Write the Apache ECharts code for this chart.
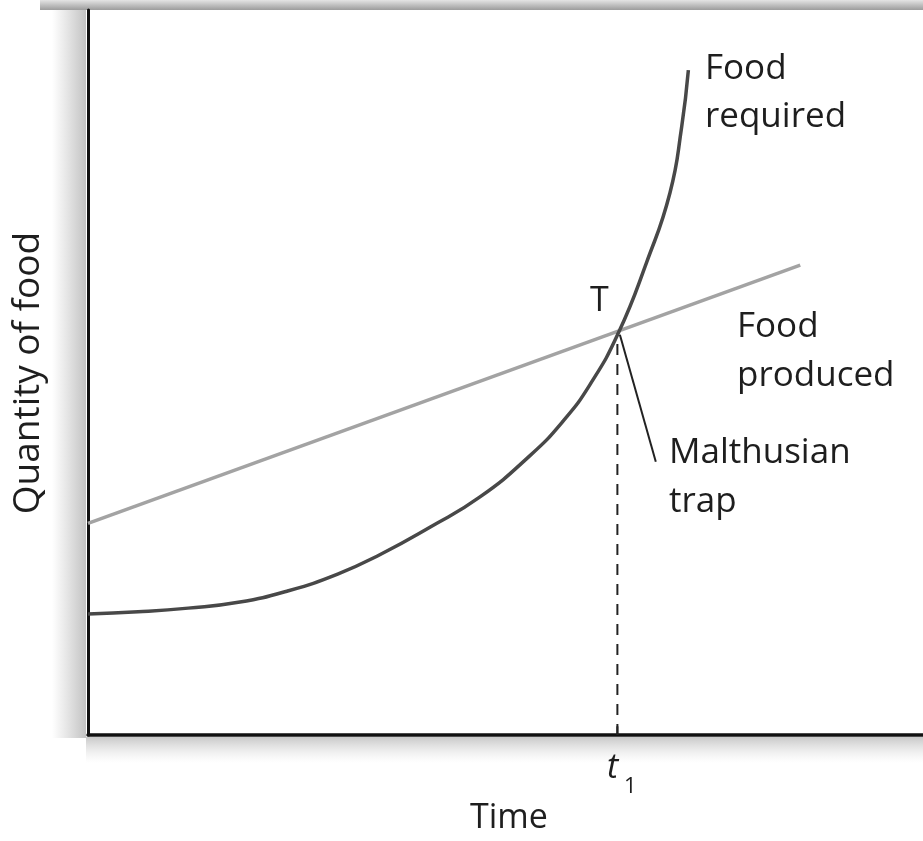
<!DOCTYPE html>
<html>
<head>
<meta charset="utf-8">
<title>Malthusian trap</title>
<script src="https://cdn.jsdelivr.net/npm/echarts@6/dist/echarts.min.js"></script>
<style>
  html, body { margin: 0; padding: 0; background: #fff; }
  #chart { width: 923px; height: 841px; }
</style>
</head>
<body>
<div id="chart"></div>
<script>
// values, in axis units (0-100 both ways)
const producedX = [0, 85.3];
const producedY = [29.2, 64.8];
const requiredX = [0, 6.0, 12.0, 18.0, 24.0, 29.9, 35.0, 41.0, 46.9, 52.9, 56.9, 60.1, 63.5, 66.9, 69.7, 71.1, 71.9];
const requiredY = [16.7, 17.0, 17.5, 18.3, 19.9, 22.2, 24.9, 28.7, 32.8, 38.5, 43.3, 48.3, 55.4, 65.2, 74.8, 83.9, 91.7];
const trapX = 63.4;
const trapY = 55.6;
const leaderX = [63.7, 68.0];
const leaderY = [55.2, 37.7];

function pairs(xs, ys) {
  return xs.map((x, i) => [x, ys[i]]);
}

const font = '"Open Sans", "DejaVu Sans", sans-serif';
const txtColor = '#1e1e1e';

let myChart = echarts.init(document.getElementById('chart'));

let option = {
  animation: false,
  backgroundColor: '#fff',
  grid: { left: 88, top: 10, right: 0, bottom: 106 },
  xAxis: {
    type: 'value', min: 0, max: 100,
    axisLine: { onZero: false, lineStyle: { color: '#111', width: 3.5 } },
    axisTick: { show: false }, axisLabel: { show: false }, splitLine: { show: false }
  },
  yAxis: {
    type: 'value', min: 0, max: 100,
    axisLine: { show: true, onZero: false, lineStyle: { color: '#111', width: 3 } },
    axisTick: { show: false }, axisLabel: { show: false }, splitLine: { show: false }
  },
  graphic: [
    // drop shadows round the frame
    { type: 'rect', z: -1, shape: { x: 40, y: 0, width: 883, height: 10 },
      style: { fill: new echarts.graphic.LinearGradient(0, 0, 0, 1, [
        { offset: 0, color: '#e4e4e4' }, { offset: 1, color: '#9c9c9c' }]) } },
    { type: 'rect', z: -1, shape: { x: 52, y: 10, width: 34, height: 728 },
      style: { fill: new echarts.graphic.LinearGradient(0, 0, 1, 0, [
        { offset: 0, color: 'rgba(200,200,200,0)' }, { offset: 1, color: '#c2c2c2' }]) } },
    { type: 'rect', z: -1, shape: { x: 86, y: 737, width: 837, height: 26 },
      style: { fill: new echarts.graphic.LinearGradient(0, 0, 0, 1, [
        { offset: 0, color: '#c8c8c8' }, { offset: 1, color: 'rgba(230,230,230,0)' }]) } },

    { type: 'text', left: 705, top: 45, style: { text: 'Food\nrequired', font: '35px ' + font, fill: txtColor, lineHeight: 48 } },
    { type: 'text', left: 737, top: 303, style: { text: 'Food\nproduced', font: '35px ' + font, fill: txtColor, lineHeight: 49 } },
    { type: 'text', left: 669, top: 429, style: { text: 'Malthusian\ntrap', font: '35px ' + font, fill: txtColor, lineHeight: 49 } },
    { type: 'text', left: 590, top: 284, style: { text: 'T', font: '34px ' + font, fill: txtColor } },
    { type: 'text', left: 607, top: 751, style: { text: 't', font: 'italic 34px ' + font, fill: txtColor } },
    { type: 'text', left: 624, top: 776, style: { text: '1', font: '22px ' + font, fill: txtColor } },
    { type: 'text', left: 470, top: 801, style: { text: 'Time', font: '34px ' + font, fill: txtColor } },
    { type: 'text', x: 28, y: 373, rotation: Math.PI / 2,
      style: { text: 'Quantity of food', font: '37px ' + font, fill: txtColor, align: 'center', verticalAlign: 'middle' } }
  ],
  series: [
    {
      name: 'Food produced', type: 'line', symbol: 'none', z: 2,
      data: pairs(producedX, producedY),
      lineStyle: { color: '#a3a3a3', width: 3.5 }
    },
    {
      name: 'Food required', type: 'line', symbol: 'none', smooth: 0.5, z: 3,
      data: pairs(requiredX, requiredY),
      lineStyle: { color: '#484848', width: 3.5 }
    },
    {
      name: 't1 drop', type: 'line', symbol: 'none', z: 1,
      data: [[trapX, 0], [trapX, trapY]],
      lineStyle: { color: '#222', width: 2, type: [11, 9] }
    },
    {
      name: 't1 tick', type: 'line', symbol: 'none', z: 1,
      data: [[trapX, 0], [trapX, 1.2]],
      lineStyle: { color: '#222', width: 2 }
    },
    {
      name: 'trap leader', type: 'line', symbol: 'none', z: 4,
      data: pairs(leaderX, leaderY),
      lineStyle: { color: '#222', width: 2 }
    }
  ]
};

myChart.setOption(option);
</script>
</body>
</html>
